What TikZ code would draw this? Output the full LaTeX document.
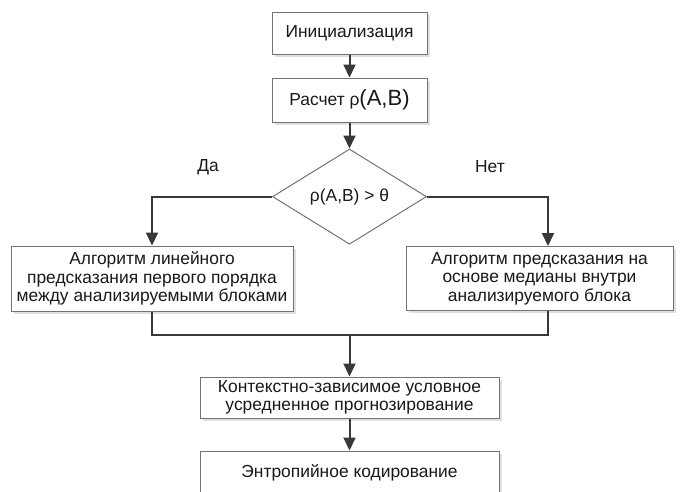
\documentclass[tikz,border=0pt]{standalone}
\usepackage{fontspec}
\setmainfont{Liberation Sans}
\usetikzlibrary{arrows.meta,shapes.geometric,shadows,positioning}

\begin{document}
\begin{tikzpicture}[
    x = 1pt, y = 1pt,
    > = {Triangle[length=13pt,width=12pt]}, % arrow head style
    font = \fontsize{17.4}{18.4}\selectfont,
    text = black!90,
    ]

    \tikzset{
    blok/.style = {
        draw = black!55,
        line width = 1pt,
        fill = white,
        align = center,
        inner sep = 2pt,
        drop shadow = {shadow xshift = 2.5pt, shadow yshift = -2.5pt,
            fill = black!12, opacity = 1}
    },
    vybor/.style = {
        diamond,
        draw = black!55,
        line width = 1pt,
        fill = white,
        inner sep = 0pt,
        minimum width = 154pt,
        minimum height = 92pt
    },
    linija/.style = {draw = black!78, line width = 2pt}
    }
    \useasboundingbox (0,0) rectangle (681,-491);

    \node[blok, minimum width = 155pt, minimum height = 42pt] (init) at (349.5,-33) {Инициализация};
    \node[blok, minimum width = 155pt, minimum height = 44pt] (rasch) [below=23pt of init]
        {Расчет ρ{\fontsize{22}{22}\selectfont(A,B)}};
    \node[vybor] (uslov) [below=26pt of rasch] {ρ(A,B) > θ};
    \node[blok, minimum width = 282pt, minimum height = 65pt] (linej) at (152,-278.5)
        {Алгоритм линейного\\предсказания первого порядка\\между анализируемыми блоками};
    \node[blok, minimum width = 267pt, minimum height = 64pt] (median) at (539.5,-278.5)
        {Алгоритм предсказания на\\основе медианы внутри\\анализируемого блока};
    \node[blok, minimum width = 299pt, minimum height = 41pt] (kontekst) at (349.5,-397.5)
        {Контекстно-зависимое условное\\усредненное прогнозирование};
    \node[blok, minimum width = 299pt, minimum height = 44pt] (entrop) [below=32pt of kontekst]
        {Энтропийное кодирование};

    \node (da) at (208,-167) {Да};
    \node (net) at (490,-167) {Нет};
    \coordinate (sliv) at (349.5,-335);

    \path[linija, ->] (init) -- (rasch);
    \path[linija, ->] (rasch) -- (uslov);
    \path[linija, ->] (uslov.west) -| (linej.north);
    \path[linija, ->] (uslov.east) -| ([xshift=8.5pt]median.north);
    \path[linija] (linej.south) |- (sliv) -| ([xshift=8.5pt]median.south);
    \path[linija, ->] (sliv) -- (kontekst);
    \path[linija, ->] (kontekst) -- (entrop);
\end{tikzpicture}
\end{document}
